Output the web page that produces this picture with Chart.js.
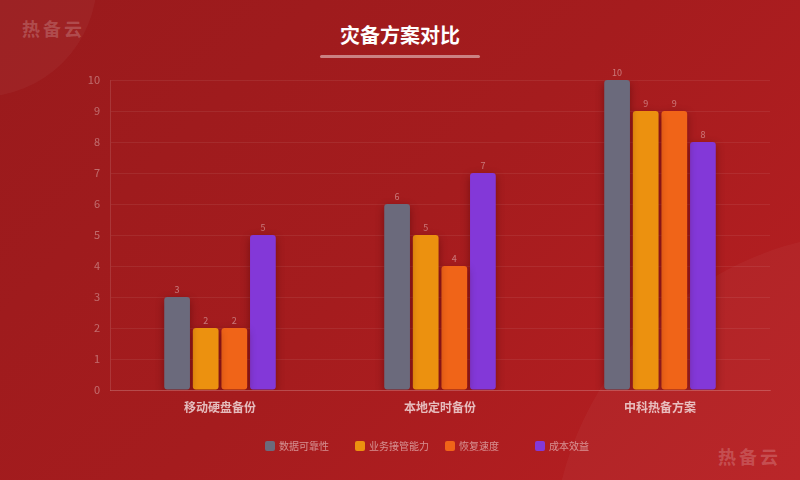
<!DOCTYPE html>
<html>
<head>
<meta charset="utf-8">
<script src="https://cdn.jsdelivr.net/npm/chart.js@4/dist/chart.umd.min.js"></script>
<style>
  html, body { margin: 0; padding: 0; }
  body {
    width: 800px; height: 480px; overflow: hidden; position: relative;
    font-family: "Noto Sans CJK SC", "Noto Sans", sans-serif;
    background: linear-gradient(135deg, #991a1c 0%, #a51c1e 50%, #b81f22 100%);
  }
  .blob { position: absolute; border-radius: 50%; background: rgba(255,255,255,0.035); }
  #title {
    position: absolute; left: 0; top: 20px; width: 800px; text-align: center;
    color: #fff; font-size: 20px; font-weight: bold; line-height: 30px;
  }
  #underline {
    position: absolute; left: 320px; top: 55px; width: 160px; height: 3px;
    border-radius: 2px; background: rgba(255,255,255,0.45);
  }
  .mark {
    position: absolute; color: rgba(255,255,255,0.2); font-size: 18px;
    font-weight: bold; letter-spacing: 3px; line-height: 20px;
  }
  #legend { position: absolute; top: 438px; left: 265px; height: 16px; }
  .item { position: absolute; top: 0; display: flex; align-items: center; white-space: nowrap;
    font-size: 10px; color: rgba(255,255,255,0.5); }
  .box { width: 10px; height: 10px; border-radius: 2px; margin-right: 4px; }
  #wrap { position: absolute; left: 0; top: 0; width: 800px; height: 480px; }
</style>
</head>
<body>
<div class="blob" style="left:-137px;top:-137px;width:234px;height:234px;"></div>
<div class="blob" style="left:552px;top:232px;width:656px;height:656px;"></div>
<div class="mark" style="left:22px;top:18px;">热备云</div>
<div class="mark" style="left:718px;top:446px;">热备云</div>
<div id="title">灾备方案对比</div>
<div id="underline"></div>
<div id="wrap"><canvas id="chart" width="800" height="480"></canvas></div>
<div id="legend"></div>
<script>
const categories = ['移动硬盘备份', '本地定时备份', '中科热备方案'];
const seriesNames = ['数据可靠性', '业务接管能力', '恢复速度', '成本效益'];
const reliability = [3, 6, 10];
const takeover = [2, 5, 9];
const recovery = [2, 4, 9];
const costBenefit = [5, 7, 8];
const yTicks = [0, 1, 2, 3, 4, 5, 6, 7, 8, 9, 10];
const colors = ['#6b6a7c', '#ec910f', '#f06418', '#8338d8'];

const seriesValues = [reliability, takeover, recovery, costBenefit];

// shadow under the bars
const shadowPlugin = {
    id: 'barShadow',
    beforeDatasetsDraw(chart) {
        const ctx = chart.ctx;
        ctx.save();
        ctx.shadowColor = 'rgba(60, 0, 0, 0.45)';
        ctx.shadowBlur = 8;
        ctx.shadowOffsetY = 3;
    },
    afterDatasetsDraw(chart) {
        chart.ctx.restore();
        // value labels above the bars
        const ctx = chart.ctx;
        ctx.save();
        ctx.font = '9px "Noto Sans CJK SC", sans-serif';
        ctx.fillStyle = 'rgba(255,255,255,0.4)';
        ctx.textAlign = 'center';
        ctx.textBaseline = 'bottom';
        chart.data.datasets.forEach((ds, i) => {
            chart.getDatasetMeta(i).data.forEach((bar, j) => {
                ctx.fillText(ds.data[j], bar.x, bar.y - 3);
            });
        });
        ctx.restore();
    }
};

const ctx = document.getElementById('chart').getContext('2d');
new Chart(ctx, {
    type: 'bar',
    data: {
        labels: categories,
        datasets: seriesNames.map((name, i) => ({
            label: name,
            data: seriesValues[i],
            backgroundColor: colors[i],
            borderRadius: 3,
            borderSkipped: false,
            categoryPercentage: 0.52,
            barPercentage: 0.9
        }))
    },
    options: {
        responsive: false,
        animation: false,
        layout: { padding: { top: 80, right: 30, bottom: 60, left: 0 } },
        plugins: {
            legend: { display: false },
            title: { display: false },
            tooltip: { enabled: false }
        },
        scales: {
            x: {
                afterFit(scale) { scale.height = 30; },
                grid: { display: false, drawTicks: false },
                border: { color: 'rgba(255,255,255,0.15)' },
                ticks: {
                    padding: 10,
                    color: 'rgba(255,255,255,0.7)',
                    font: { family: '"Noto Sans CJK SC"', size: 12, weight: 'bold' }
                }
            },
            y: {
                min: 0,
                max: 10,
                afterFit(scale) { scale.width = 110; },
                afterBuildTicks(scale) { scale.ticks = yTicks.map(v => ({ value: v })); },
                grid: { color: 'rgba(255,255,255,0.07)', drawTicks: false },
                border: { color: 'rgba(255,255,255,0.12)' },
                ticks: {
                    padding: 10,
                    color: 'rgba(255,255,255,0.35)',
                    font: { family: '"Noto Sans CJK SC"', size: 11 }
                }
            }
        }
    },
    plugins: [shadowPlugin]
});

// legend in a fixed grid like the original
const legend = document.getElementById('legend');
seriesNames.forEach((name, i) => {
    const item = document.createElement('div');
    item.className = 'item';
    item.style.left = (i * 90) + 'px';
    item.innerHTML = '<span class="box" style="background:' + colors[i] + '"></span>' + name;
    legend.appendChild(item);
});
</script>
</body>
</html>
